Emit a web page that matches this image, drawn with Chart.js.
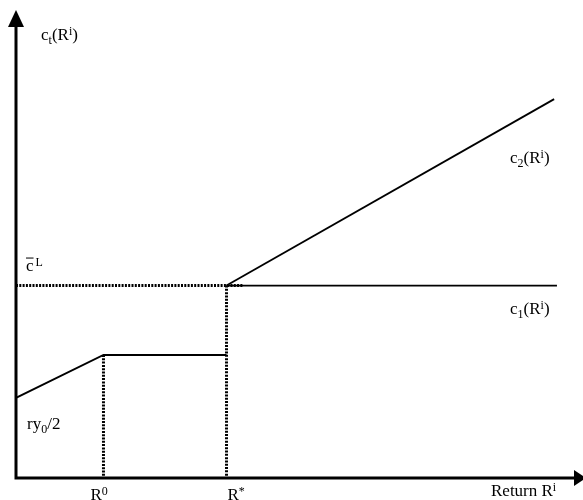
<!DOCTYPE html>
<html>
<head>
<meta charset="utf-8">
<script src="https://cdn.jsdelivr.net/npm/chart.js@4/dist/chart.umd.min.js"></script>
<style>
  html, body { margin: 0; padding: 0; background: #ffffff; }
  canvas { display: block; }
</style>
</head>
<body>
<canvas id="c" width="583" height="500"></canvas>
<script>
// ---- Data (arbitrary units 0..100) ----
const lowX   = [0, 15.62, 37.59];    // ry0/2 -> R0 -> R*
const lowY   = [17.2, 26.4, 26.4];
const c1X    = [37.59, 96.6];        // c1(R^i)
const c1Y    = [41.3, 41.3];
const c2X    = [37.59, 96.1];        // c2(R^i)
const c2Y    = [41.3, 81.3];
const cBarX  = [0, 40.5];            // dotted c-bar^L level
const cBarY  = [41.3, 41.3];
const r0X    = [15.62, 15.62];       // dotted drop at R0
const r0Y    = [26.4, 0];
const rStarX = [37.59, 37.59];       // dotted drop at R*
const rStarY = [41.3, 0];
const tickValues = [15.62, 37.59];
const tickLabels = [["R", "0"], ["R", "*"]];

const pts = (xs, ys) => xs.map((x, i) => ({ x: x, y: ys[i] }));

const FONT = '"Liberation Serif", "Times New Roman", serif';

function drawRich(ctx, x, y, parts) {
  let cx = x;
  for (const p of parts) {
    const kind = p[1] || 'n';
    const size = kind === 'n' ? 17 : 12;
    ctx.font = size + 'px ' + FONT;
    let dy = 0;
    if (kind === 'sub') dy = 4;
    if (kind === 'sup') dy = -5;
    ctx.fillText(p[0], cx, y + dy);
    cx += ctx.measureText(p[0]).width;
  }
  return cx;
}

const decor = {
  id: 'decor',
  afterDatasetsDraw(chart) {
    const ctx = chart.ctx;
    const a = chart.chartArea;
    const xs = chart.scales.x;
    const ys = chart.scales.y;
    ctx.save();
    ctx.fillStyle = '#000';
    ctx.strokeStyle = '#000';
    // axes
    const ox = xs.getPixelForValue(0);
    const oy = ys.getPixelForValue(0);
    ctx.lineWidth = 3;
    ctx.beginPath();
    ctx.moveTo(ox, oy + 1.5);
    ctx.lineTo(ox, a.top + 12);
    ctx.moveTo(ox - 1.5, oy);
    ctx.lineTo(a.right, oy);
    ctx.stroke();
    // arrow heads
    ctx.beginPath();
    ctx.moveTo(ox, a.top - 2);
    ctx.lineTo(ox - 8, a.top + 15);
    ctx.lineTo(ox + 8, a.top + 15);
    ctx.closePath();
    ctx.fill();
    ctx.beginPath();
    ctx.moveTo(a.right + 10, oy);
    ctx.lineTo(a.right - 2, oy - 8);
    ctx.lineTo(a.right - 2, oy + 8);
    ctx.closePath();
    ctx.fill();

    ctx.textBaseline = 'alphabetic';
    ctx.textAlign = 'left';
    // axis titles
    drawRich(ctx, 41, 40, [['c'], ['t', 'sub'], ['(R'], ['i', 'sup'], [')']]);
    drawRich(ctx, 491, 496, [['Return R'], ['i', 'sup']]);
    // x tick labels via the x scale
    const tickOffsets = [-13, 1];
    tickValues.forEach((v, i) => {
      const px = xs.getPixelForValue(v) + tickOffsets[i];
      drawRich(ctx, px, 500, [[tickLabels[i][0]], [tickLabels[i][1], 'sup']]);
    });
    // c-bar^L
    const cy = ys.getPixelForValue(cBarY[0]);
    ctx.font = '17px ' + FONT;
    const cw = ctx.measureText('c').width;
    const cxp = 26;
    ctx.fillText('c', cxp, cy - 15);
    ctx.fillRect(cxp, cy - 28, cw, 1);
    ctx.font = '12px ' + FONT;
    ctx.fillText('L', cxp + cw + 2, cy - 20);
    // series labels
    drawRich(ctx, 510, 163, [['c'], ['2', 'sub'], ['(R'], ['i', 'sup'], [')']]);
    drawRich(ctx, 510, 314, [['c'], ['1', 'sub'], ['(R'], ['i', 'sup'], [')']]);
    drawRich(ctx, 27, 429, [['ry'], ['0', 'sub'], ['/2']]);
    ctx.restore();
  }
};

const solid = { borderColor: '#000', borderWidth: 1.8, pointRadius: 0, showLine: true, fill: false, tension: 0 };
const dotted = { borderColor: '#000', borderWidth: 3, pointRadius: 0, showLine: true, fill: false, tension: 0, borderDash: [2, 1.3] };

new Chart(document.getElementById('c'), {
  type: 'scatter',
  data: {
    datasets: [
      Object.assign({ label: 'cBar', data: pts(cBarX, cBarY) }, dotted),
      Object.assign({ label: 'R0', data: pts(r0X, r0Y) }, dotted),
      Object.assign({ label: 'R*', data: pts(rStarX, rStarY) }, dotted),
      Object.assign({ label: 'low', data: pts(lowX, lowY) }, solid),
      Object.assign({ label: 'c1', data: pts(c1X, c1Y) }, solid),
      Object.assign({ label: 'c2', data: pts(c2X, c2Y) }, solid)
    ]
  },
  options: {
    responsive: false,
    devicePixelRatio: 1,
    animation: false,
    layout: { padding: { left: 16, right: 7, top: 12, bottom: 22 } },
    scales: {
      x: { type: 'linear', min: 0, max: 100, display: false },
      y: { type: 'linear', min: 0, max: 100, display: false }
    },
    plugins: { legend: { display: false }, tooltip: { enabled: false } },
    elements: { line: { borderCapStyle: 'butt' } }
  },
  plugins: [decor]
});
</script>
</body>
</html>
